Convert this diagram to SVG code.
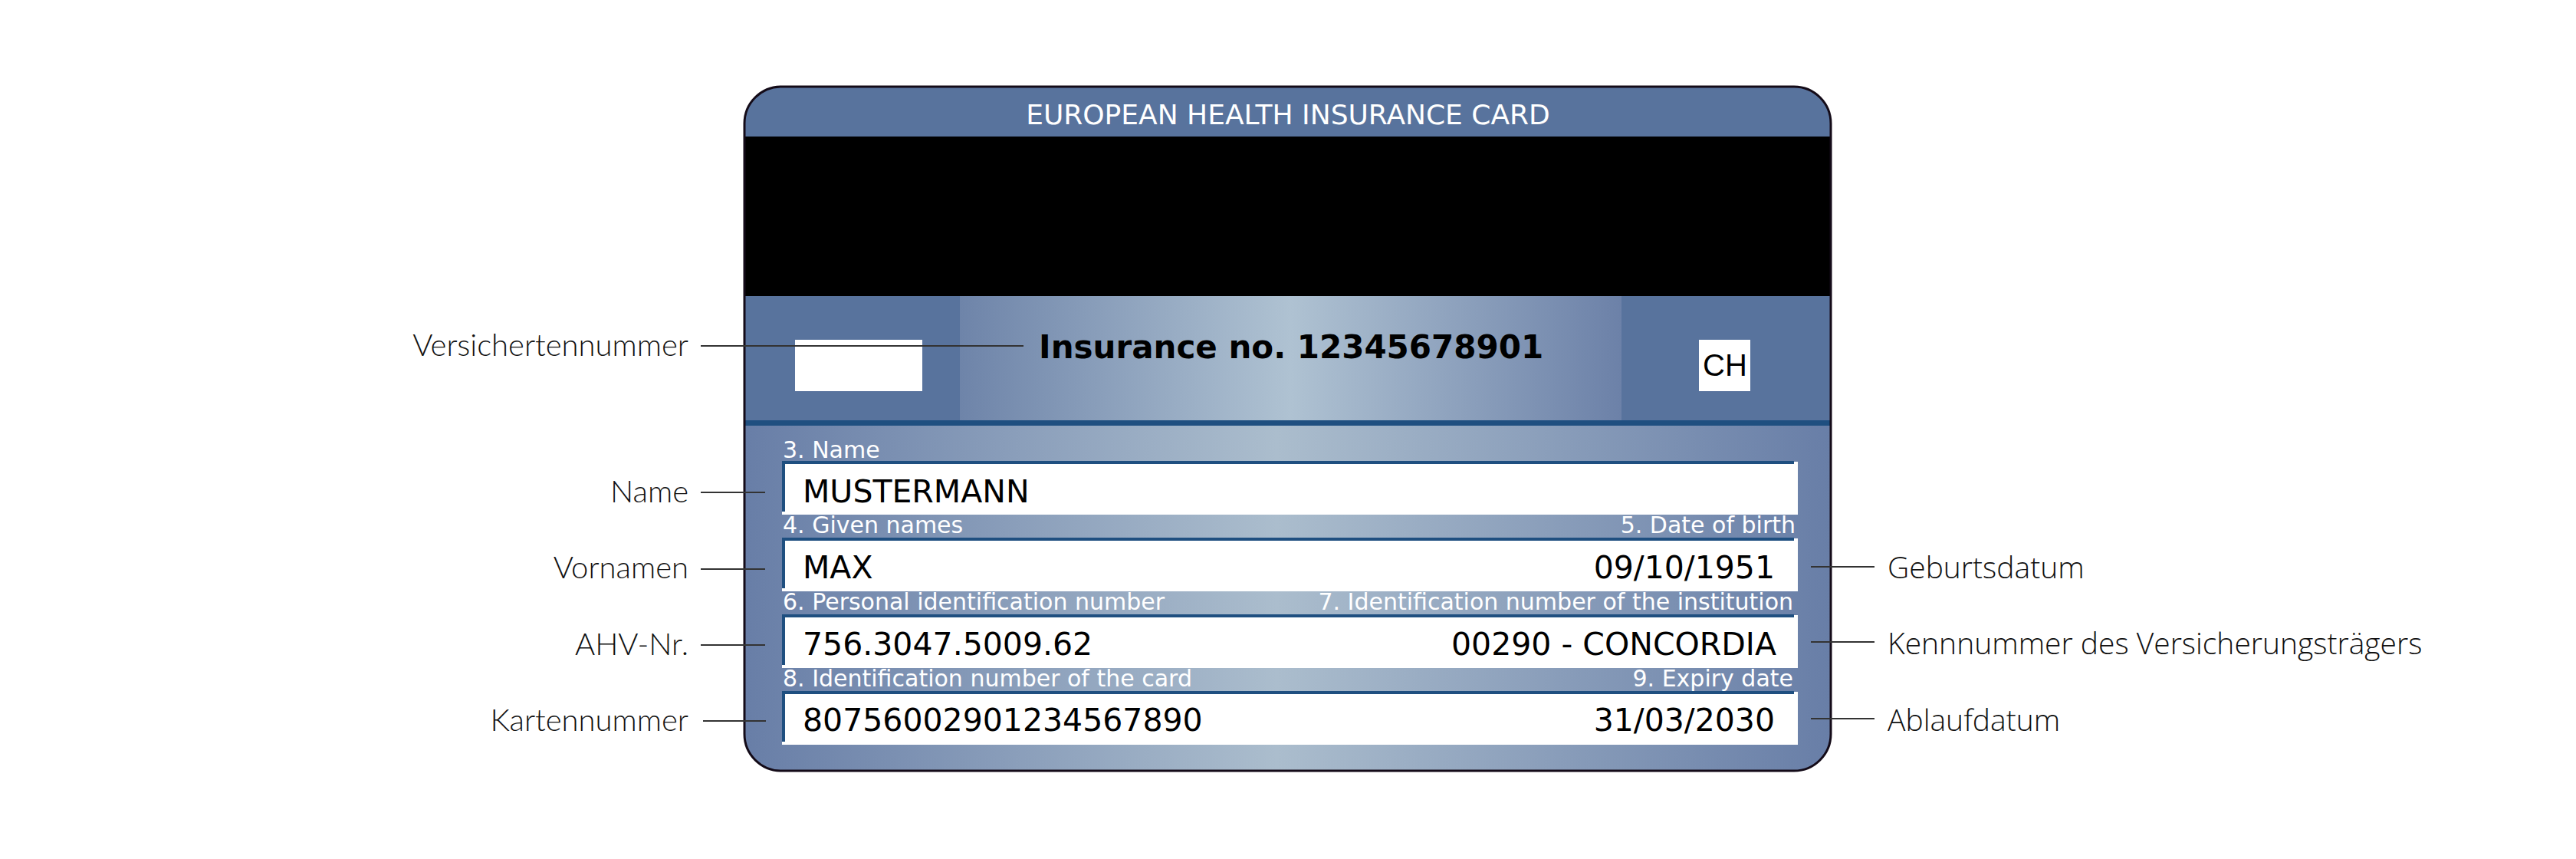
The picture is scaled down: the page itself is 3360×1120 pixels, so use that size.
<svg xmlns="http://www.w3.org/2000/svg" width="3360" height="1120" viewBox="0 0 3360 1120">
  <style>
    .hdr { font-family: "DejaVu Sans", "Liberation Sans", sans-serif; font-size: 36px; fill: #ffffff; }
    .ins { font-family: "DejaVu Sans", "Liberation Sans", sans-serif; font-size: 42px; font-weight: bold; fill: #000000; }
    .ch { font-family: "Liberation Sans", Arial, sans-serif; font-size: 40px; fill: #000000; }
    .fl { font-family: "DejaVu Sans", "Liberation Sans", sans-serif; font-size: 30px; fill: #ffffff; }
    .val { font-family: "DejaVu Sans", "Liberation Sans", sans-serif; font-size: 41px; fill: #000000; }
    .ll { font-family: Lato, "Noto Sans", sans-serif; font-weight: 300; font-size: 40px; fill: #111111; }
    .rl { font-family: "Open Sans", "Noto Sans", sans-serif; font-weight: 300; font-size: 39px; fill: #111111; }
    .con { stroke: #333333; stroke-width: 2; fill: none; }
    .box { fill: #ffffff; }
    .edge { fill: #1f4f80; }
  </style>
  <defs>
    <clipPath id="cardClip">
      <rect x="971" y="113" width="1417" height="892" rx="48" ry="48"/>
    </clipPath>
    <linearGradient id="midGrad" x1="1252" y1="0" x2="2115" y2="0" gradientUnits="userSpaceOnUse">
      <stop offset="0" stop-color="#6e84a9"/>
      <stop offset="0.5" stop-color="#afc2d2"/>
      <stop offset="1" stop-color="#6c81a8"/>
    </linearGradient>
    <linearGradient id="botGrad" x1="971" y1="0" x2="2388" y2="0" gradientUnits="userSpaceOnUse">
      <stop offset="0" stop-color="#687ea7"/>
      <stop offset="0.49" stop-color="#abbdcd"/>
      <stop offset="1" stop-color="#687ea7"/>
    </linearGradient>
  </defs>
  <rect x="0" y="0" width="3360" height="1120" fill="#ffffff"/>

  <g id="card">
    <g clip-path="url(#cardClip)">
      <rect x="971" y="113" width="1417" height="66" fill="#58739d"/>
      <rect x="971" y="178" width="1417" height="208" fill="#000000"/>
      <rect x="971" y="386" width="1417" height="163" fill="#58739d"/>
      <rect x="1252" y="386" width="863" height="163" fill="url(#midGrad)"/>
      <rect x="971" y="548" width="1417" height="7" fill="#1f4f80"/>
      <rect x="971" y="555" width="1417" height="450" fill="url(#botGrad)"/>
    </g>
    <rect x="971" y="113" width="1417" height="892" rx="48" ry="48" fill="none" stroke="#140b18" stroke-width="3"/>
    <text class="hdr" x="1680" y="162" text-anchor="middle">EUROPEAN HEALTH INSURANCE CARD</text>
    <rect x="1037" y="443" width="166" height="67" fill="#ffffff"/>
    <text class="ins" x="1355" y="467">Insurance no. 12345678901</text>
    <rect x="2216" y="443" width="67" height="67" fill="#ffffff"/>
    <text class="ch" x="2250" y="490" text-anchor="middle">CH</text>
  </g>

  <g id="field-name">
    <text class="fl" x="1021" y="597">3. Name</text>
    <rect class="box" x="1020" y="602" width="1325" height="69"/>
    <rect class="edge" x="1020" y="601" width="1320" height="4"/>
    <rect class="edge" x="1020" y="601" width="4" height="66"/>
    <text class="val" x="1047" y="655">MUSTERMANN</text>
  </g>
  <g id="field-given">
    <text class="fl" x="1021" y="695">4. Given names</text>
    <text class="fl" x="2342" y="695" text-anchor="end">5. Date of birth</text>
    <rect class="box" x="1020" y="702" width="1325" height="69"/>
    <rect class="edge" x="1020" y="701" width="1320" height="4"/>
    <rect class="edge" x="1020" y="701" width="4" height="66"/>
    <text class="val" x="1047" y="754">MAX</text>
    <text class="val" x="2315" y="754" text-anchor="end">09/10/1951</text>
  </g>
  <g id="field-pin">
    <text class="fl" x="1021" y="795">6. Personal identification number</text>
    <text class="fl" x="2339" y="795" text-anchor="end">7. Identification number of the institution</text>
    <rect class="box" x="1020" y="802" width="1325" height="69"/>
    <rect class="edge" x="1020" y="801" width="1320" height="4"/>
    <rect class="edge" x="1020" y="801" width="4" height="66"/>
    <text class="val" x="1047" y="854">756.3047.5009.62</text>
    <text class="val" x="2317" y="854" text-anchor="end">00290 - CONCORDIA</text>
  </g>
  <g id="field-card">
    <text class="fl" x="1021" y="895">8. Identification number of the card</text>
    <text class="fl" x="2339" y="895" text-anchor="end">9. Expiry date</text>
    <rect class="box" x="1020" y="902" width="1325" height="69"/>
    <rect class="edge" x="1020" y="901" width="1320" height="4"/>
    <rect class="edge" x="1020" y="901" width="4" height="66"/>
    <text class="val" x="1047" y="953">80756002901234567890</text>
    <text class="val" x="2315" y="953" text-anchor="end">31/03/2030</text>
  </g>

  <g id="label-versichertennummer"><text class="ll" x="898" y="464" text-anchor="end">Versichertennummer</text></g>
  <g id="label-name"><text class="ll" x="898" y="655" text-anchor="end">Name</text></g>
  <g id="label-vornamen"><text class="ll" x="898" y="754" text-anchor="end">Vornamen</text></g>
  <g id="label-ahv"><text class="ll" x="898" y="854" text-anchor="end">AHV-Nr.</text></g>
  <g id="label-kartennummer"><text class="ll" x="898" y="953" text-anchor="end">Kartennummer</text></g>
  <g id="label-geburtsdatum"><text class="rl" x="2462" y="754">Geburtsdatum</text></g>
  <g id="label-kennnummer"><text class="rl" x="2462" y="853">Kennnummer des Versicherungsträgers</text></g>
  <g id="label-ablaufdatum"><text class="rl" x="2462" y="953">Ablaufdatum</text></g>

  <g id="connectors">
    <line class="con" x1="914" y1="451" x2="1335" y2="451"/>
    <line class="con" x1="914" y1="642" x2="998" y2="642"/>
    <line class="con" x1="914" y1="742" x2="998" y2="742"/>
    <line class="con" x1="914" y1="841" x2="998" y2="841"/>
    <line class="con" x1="917" y1="940" x2="999" y2="940"/>
    <line class="con" x1="2362" y1="739" x2="2445" y2="739"/>
    <line class="con" x1="2362" y1="837" x2="2445" y2="837"/>
    <line class="con" x1="2362" y1="937" x2="2445" y2="937"/>
  </g>
</svg>
